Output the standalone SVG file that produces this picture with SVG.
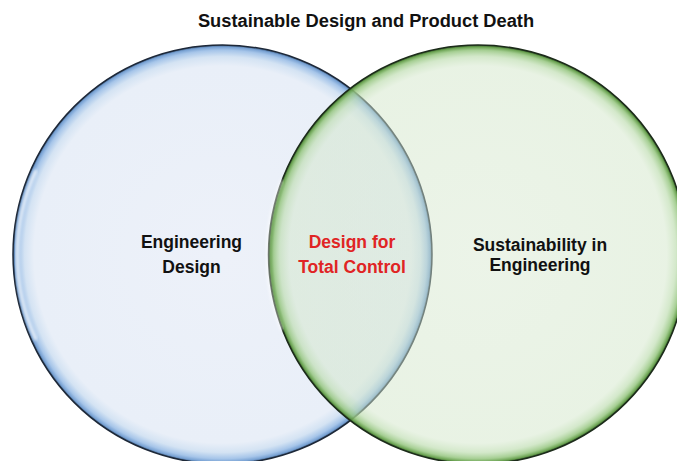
<svg xmlns="http://www.w3.org/2000/svg" width="677" height="461" viewBox="0 0 677 461">
  <style>
    .lbl { font-family: "Liberation Sans", Arial, sans-serif; font-weight: bold; font-size: 17.5px; text-anchor: middle; fill: #111; }
    .red { fill: #e02424; }
    .title { font-family: "Liberation Sans", Arial, sans-serif; font-weight: bold; font-size: 18.3px; text-anchor: middle; fill: #111; }
  </style>
  <defs>
    <radialGradient id="gBlue" cx="50%" cy="50%" r="50%">
      <stop offset="0" stop-color="#edf1f9"/>
      <stop offset="0.9" stop-color="#e9eff8"/>
      <stop offset="0.945" stop-color="#d4e3f3"/>
      <stop offset="0.975" stop-color="#a6c5e9"/>
      <stop offset="0.99" stop-color="#7aa3d4"/>
      <stop offset="1" stop-color="#3d5f88"/>
    </radialGradient>
    <radialGradient id="gGreen" cx="50%" cy="50%" r="50%">
      <stop offset="0" stop-color="#d4e6cc" stop-opacity="0.45"/>
      <stop offset="0.9" stop-color="#d2e6c9" stop-opacity="0.5"/>
      <stop offset="0.945" stop-color="#bcdcae" stop-opacity="0.65"/>
      <stop offset="0.975" stop-color="#96c680" stop-opacity="0.85"/>
      <stop offset="0.99" stop-color="#66a04c" stop-opacity="0.95"/>
      <stop offset="1" stop-color="#2f5a22"/>
    </radialGradient>
    <filter id="soft" x="-10%" y="-10%" width="120%" height="120%">
      <feGaussianBlur stdDeviation="1.5"/>
    </filter>
  </defs>
  <rect width="677" height="461" fill="#ffffff"/>
  <text class="title" x="366" y="27">Sustainable Design and Product Death</text>
  <g id="engineering-design">
    <circle cx="222.5" cy="254.5" r="209.5" fill="url(#gBlue)" stroke="#1d2838" stroke-width="1.5"/>
    <path d="M 36 170 A 200 200 0 0 0 36 340" fill="none" stroke="#ffffff" stroke-width="3" stroke-opacity="0.8" filter="url(#soft)"/>
    <text class="lbl" x="191.5" y="248">Engineering</text>
    <text class="lbl" x="191.5" y="273">Design</text>
  </g>
  <g id="sustainability">
    <circle cx="478" cy="254.5" r="209.5" fill="url(#gGreen)" stroke="#1c2b1a" stroke-width="1.5"/>
    <path d="M 282 180 A 200 200 0 0 0 282 330" fill="none" stroke="#ffffff" stroke-width="3" stroke-opacity="0.6" filter="url(#soft)"/>
    <text class="lbl" x="540" y="251">Sustainability in</text>
    <text class="lbl" x="540" y="271">Engineering</text>
  </g>
  <g id="design-total-control">
    <text class="lbl red" x="352" y="248">Design for</text>
    <text class="lbl red" x="352" y="273">Total Control</text>
  </g>
  <g id="connectors"/>
</svg>
